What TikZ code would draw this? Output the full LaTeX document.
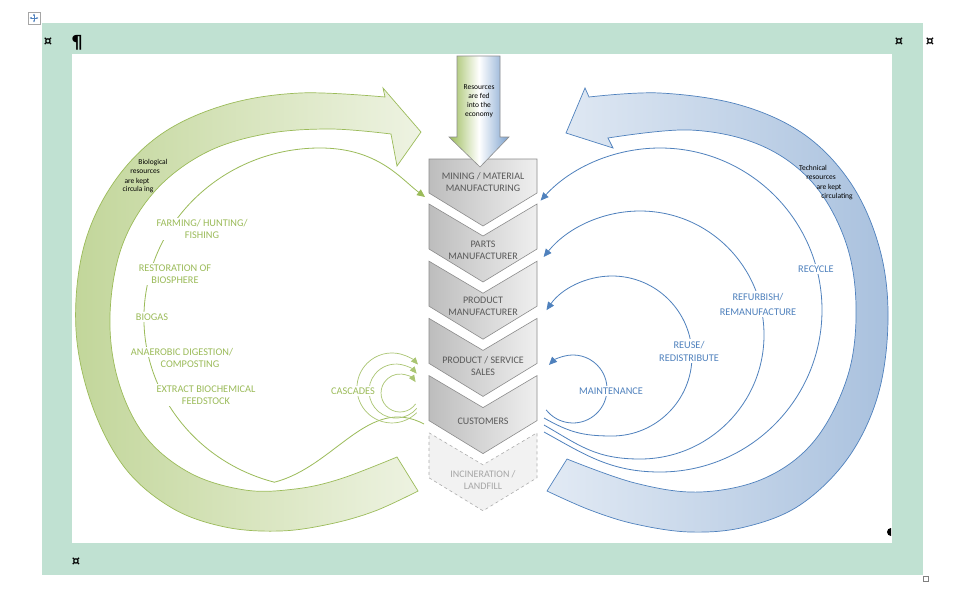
\documentclass[tikz,border=0pt]{standalone}
\usepackage{fontspec}
\setmainfont{Carlito}
\newfontfamily\dejavu{DejaVu Sans}
\usetikzlibrary{arrows.meta,calc}
\definecolor{mint}{HTML}{C0E1D2}
\definecolor{grn}{HTML}{9BBB59}
\definecolor{blu}{HTML}{4F81BD}
\definecolor{chevtxt}{HTML}{595959}
\definecolor{chevedge}{HTML}{8C8C8C}
\definecolor{chevL}{HTML}{BDBDBD}
\definecolor{chevR}{HTML}{EFEFEF}
\definecolor{gbandL}{HTML}{C2D69A}
\definecolor{gbandR}{HTML}{EEF3E2}
\definecolor{bbandL}{HTML}{E2EAF4}
\definecolor{bbandR}{HTML}{A9C1DE}
\begin{document}
\begin{tikzpicture}[x=1pt,y=-1pt,
  chevbox/.style={draw=chevedge, line width=0.6pt, left color=chevL, right color=chevR},
  chevlbl/.style={text=chevtxt, font=\fontsize{10}{12}\selectfont, align=center, inner sep=0pt},
  glbl/.style={text=grn, font=\fontsize{10.3}{12}\selectfont, align=center, fill=white, inner sep=1.5pt},
  blbl/.style={text=blu, font=\fontsize{10.3}{13}\selectfont, align=center, fill=white, inner sep=1.5pt},
  tinytxt/.style={font=\fontsize{7.5}{9}\selectfont, align=center, text=black, inner sep=0pt},
  garc/.style={draw=grn, line width=0.8pt, -{Triangle[length=8pt,width=7pt]}},
  casc/.style={draw=grn!85, line width=0.7pt, -{Triangle[length=7pt,width=6pt]}},
  barc/.style={draw=blu, line width=0.8pt, -{Triangle[length=8pt,width=7pt]}},
  fmark/.style={font=\dejavu\bfseries\fontsize{13}{13}\selectfont, inner sep=0pt}
]
\useasboundingbox (0,0) rectangle (966,595);
\fill[white] (0,0) rectangle (966,595);
% frame
\fill[mint] (42,23) rectangle (923,575);
\fill[white] (72,54) rectangle (892,543);
% move handle
\draw[gray!70, fill=white] (28,12) rectangle (40,24);
\draw[blu, line width=0.5pt, {Latex[length=2pt,width=2pt]}-{Latex[length=2pt,width=2pt]}] (29.5,18) -- (38.5,18);
\draw[blu, line width=0.5pt, {Latex[length=2pt,width=2pt]}-{Latex[length=2pt,width=2pt]}] (34,13.5) -- (34,22.5);
% formatting marks
\node[fmark] (m1) at (48,42) {¤};
\node[font=\dejavu\bfseries\fontsize{18}{18}\selectfont, inner sep=0pt] (m2) at (77,43) {¶};
\node[fmark] (m3) at (899,42) {¤};
\node[fmark] (m4) at (930,42) {¤};
\node[fmark] (m5) at (76,562) {¤};
\fill[black] (891,528) arc[start angle=270, end angle=90, radius=4] -- cycle;
\draw[gray, line width=0.6pt] (923,576) rectangle (928,581);

% green band
\path[draw=grn, line width=0.7pt, left color=gbandL, right color=gbandR]
  (418,491) -- plot[smooth, tension=0.6] coordinates {(418,491) (375,511) (330,524) (280,531) (225,527) (172,508) (125,468) (92,405) (76,330) (83,250) (112,185) (160,135) (225,105) (300,93) (385,97)}
  -- (383,88) -- (421,132) -- (397,166) -- (391,134)
  -- plot[smooth, tension=0.6] coordinates {(391,134) (330,129) (265,134) (205,153) (155,191) (122,246) (110,315) (118,380) (145,436) (190,473) (245,490) (295,489) (340,479) (397,457)}
  -- cycle;
% blue band
\path[draw=blu, line width=0.7pt, left color=bbandL, right color=bbandR]
  (547,491) -- plot[smooth, tension=0.6] coordinates {(547,491) (590,510) (635,524) (690,532) (745,527) (800,505) (848,458) (878,395) (888,320) (880,250) (852,185) (805,135) (740,105) (660,93) (589,97)}
  -- (585,88) -- (566,133) -- (613,148) -- (608,138)
  -- plot[smooth, tension=0.6] coordinates {(608,138) (690,130) (760,145) (812,182) (845,240) (856,305) (848,375) (815,440) (765,478) (700,492) (635,483) (567,459)}
  -- cycle;

% band texts
\node[tinytxt] (bio1) at (153,163) {Biological};
\node[tinytxt] (bio2) at (145,172) {resources};
\node[tinytxt] (bio3) at (137,181) {are kept};
\node[tinytxt] (bio4) at (138,190) {circula ing};
\node[tinytxt] (tec1) at (813,168) {Technical};
\node[tinytxt] (tec2) at (821,178) {resources};
\node[tinytxt] (tec3) at (829,187) {are kept};
\node[tinytxt] (tec4) at (837,197) {circulating};

% green biological arc
\coordinate (gS) at (424,424);
\coordinate (gB) at (274.4,482.2);
\coordinate (gT) at (425,197);
\draw[garc] (gS) to[out=152,in=14.5] (gB) arc[start angle=105,end angle=270,x radius=176,y radius=170] .. controls +(58,0) and +(-24,-18) .. (gT);

% cascades
\coordinate (c1s) at (416.7,412.7);
\coordinate (c2s) at (416.7,408.4);
\coordinate (c3s) at (415.6,403.9);
\draw[casc] (c1s) arc[start angle=45,end angle=318,radius=35];
\draw[casc] (c2s) arc[start angle=40,end angle=320,radius=27];
\draw[casc] (c3s) arc[start angle=35,end angle=325,radius=19];

% blue technical arcs
\coordinate (r1S) at (544,432); \coordinate (r1B) at (660,472);
\coordinate (r2S) at (544,425); \coordinate (r2B) at (640,459);
\coordinate (r3S) at (544,418); \coordinate (r3B) at (612,436);
\coordinate (r4S) at (546.2,409.9);
\draw[barc] (r1S) .. controls +(40,22) and +(-50,0) .. (r1B) arc[start angle=90,end angle=-137.5,radius=162];
\draw[barc] (r2S) .. controls +(35,20) and +(-45,0) .. (r2B) arc[start angle=90,end angle=-141,radius=124];
\draw[barc] (r3S) .. controls +(25,14) and +(-30,0) .. (r3B) arc[start angle=90,end angle=-145,radius=80];
\draw[barc] (r4S) arc[start angle=142,end angle=-135,radius=34];

% chevrons
\path[chevbox] (429,159) -- (537,159) -- (537,193) -- (483,226) -- (429,193) -- cycle;
\foreach \t in {204,261.2,318.4,375.6} {
  \path[chevbox] (429,\t) -- (483,\t+32) -- (537,\t) -- (537,\t+45) -- (483,\t+78) -- (429,\t+45) -- cycle;
}
\path[draw=gray!65, dashed, line width=0.6pt, fill=gray!10] (429,432.8) -- (483,464.8) -- (537,432.8) -- (537,477.8) -- (483,510.8) -- (429,477.8) -- cycle;

\node[chevlbl] (mining) at (483,182) {MINING / MATERIAL\\MANUFACTURING};
\node[chevlbl] (parts) at (483,250) {PARTS\\MANUFACTURER};
\node[chevlbl] (prodman) at (483,306) {PRODUCT\\MANUFACTURER};
\node[chevlbl] (sales) at (483,366) {PRODUCT / SERVICE\\SALES};
\node[chevlbl] (cust) at (483,421) {CUSTOMERS};
\node[chevlbl, text=gray!70] (incin) at (483,480) {INCINERATION /\\LANDFILL};

% resource arrow
\path[draw=chevedge, line width=0.6pt, left color=grn, right color=blu!75, middle color=white]
  (457,56) -- (500,56) -- (500,137) -- (509,137) -- (480,167) -- (449,137) -- (457,137) -- cycle;
\node[tinytxt] (res) at (479,101) {Resources\\are fed\\into the\\economy};

% green labels
\node[glbl] (farm) at (202,229) {FARMING/ HUNTING/\\FISHING};
\node[glbl] (rest) at (175,274) {RESTORATION OF\\BIOSPHERE};
\node[glbl] (biogas) at (152,317) {BIOGAS};
\node[glbl] (anaer1) at (182,352) {ANAEROBIC DIGESTION/};
\node[glbl, fill=none] (anaer2) at (190,364) {COMPOSTING};
\node[glbl] (extr) at (206,395) {EXTRACT BIOCHEMICAL\\FEEDSTOCK};
\node[glbl] (casc) at (353,391) {CASCADES};

% blue labels
\node[blbl] (recycle) at (816,269) {RECYCLE};
\node[blbl, font=\fontsize{10.3}{15}\selectfont] (refurb) at (758,304) {REFURBISH/\\REMANUFACTURE};
\node[blbl] (reuse) at (689,351) {REUSE/\\REDISTRIBUTE};
\node[blbl] (maint) at (611,391) {MAINTENANCE};
\end{tikzpicture}
\end{document}
